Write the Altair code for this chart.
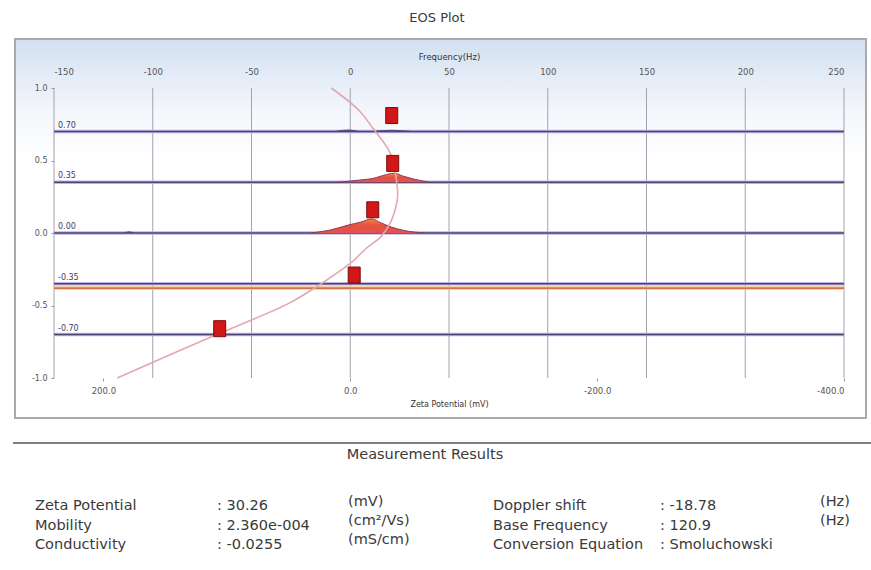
import altair as alt
import pandas as pd

# ---- axis ticks -------------------------------------------------------------
freq_ticks = [-150, -100, -50, 0, 50, 100, 150, 200, 250]      # Hz (top axis)
zeta_ticks = [200, 0, -200, -400]                               # mV (bottom axis)
depth_ticks = [-1.0, -0.5, 0.0, 0.5, 1.0]                       # relative cell depth

# zeta potential per Hz of Doppler shift (30.26 mV <-> -18.78 Hz)
ZETA_PER_HZ = -1.6

# ---- measurement levels -----------------------------------------------------
levels = [0.70, 0.35, 0.00, -0.35, -0.70]
stationary_level = -0.38

# peak markers (frequency, depth)
marker_freq = [21.0, 21.5, 11.4, 2.0, -66.1]
marker_depth = [0.81, 0.48, 0.16, -0.29, -0.66]

# parabolic electro-osmotic profile
profile_depth = [1.0, 0.85, 0.72, 0.55, 0.32, 0.23, 0.07, -0.03, -0.10, -0.21,
                 -0.34, -0.48, -0.69, -0.85, -1.0]
profile_freq = [-9.6, 4.1, 11.6, 20.3, 23.8, 23.8, 20.3, 15.2, 8.6, 0.0,
                -13.7, -30.4, -65.8, -93.0, -118.0]

# frequency spectra drawn on top of each level line
spec_070a_freq = [-9, -5, -1, 3, 6]
spec_070a_amp = [0, 0.010, 0.014, 0.007, 0]
spec_070b_freq = [9, 15, 21, 27, 33]
spec_070b_amp = [0, 0.008, 0.012, 0.008, 0]
spec_035_freq = [-6, 4, 12, 17, 22.3, 27, 32.5, 40]
spec_035_amp = [0, 0.014, 0.028, 0.048, 0.062, 0.041, 0.021, 0]
spec_000_freq = [-20, -10, -1, 5.5, 10.7, 15.7, 20.8, 27.4, 37.5]
spec_000_amp = [0, 0.021, 0.055, 0.076, 0.097, 0.069, 0.041, 0.017, 0]
spec_000b_freq = [-115, -112, -109]
spec_000b_amp = [0, 0.012, 0]

# ---- measurement results table ----------------------------------------------
left_names = ["Zeta Potential", "Mobility", "Conductivity"]
left_values = ["30.26", "2.360e-004", "-0.0255"]
left_units = ["(mV)", "(cm\u00b2/Vs)", "(mS/cm)"]
right_names = ["Doppler shift", "Base Frequency", "Conversion Equation"]
right_values = ["-18.78", "120.9", "Smoluchowski"]
right_units = ["(Hz)", "(Hz)"]

# ---- layout -----------------------------------------------------------------
LEFT, TOP, W, H = 54, 88, 790, 290
FONT = "DejaVu Sans"
TXT = "#3a3a3a"
AX = "#555555"

FREQ = alt.Scale(domain=[freq_ticks[0], freq_ticks[-1]], nice=False, zero=False)
ZETA = alt.Scale(domain=[freq_ticks[0] * ZETA_PER_HZ, freq_ticks[-1] * ZETA_PER_HZ],
                 nice=False, zero=False)
DEPTH = alt.Scale(domain=[depth_ticks[0], depth_ticks[-1]], nice=False, zero=False)

HYPHEN = "replace(format(datum.value, '{f}'), '\u2212', '-')"

Y_AXIS = alt.Axis(values=depth_ticks, labelExpr=HYPHEN.format(f=".1f"), grid=False,
                  domain=False, tickSize=3, tickColor="#999999", labelPadding=4,
                  labelFont=FONT, labelFontSize=8, labelColor=AX, title=None, zindex=2)


def yd(field):
    return alt.Y(field, type="quantitative", scale=DEPTH, axis=Y_AXIS)


def xf(field, axis=None):
    return alt.X(field, type="quantitative", scale=FREQ, axis=axis)


def text_at(s, x, y, size=14.5, align="left", color=TXT):
    return alt.Chart(alt.Data(values=[{"t": s}])).mark_text(
        align=align, baseline="middle", font=FONT, fontSize=size, color=color
    ).encode(x=alt.value(x - LEFT), y=alt.value(y - TOP), text="t:N")


# panel with a pale blue header band
panel = alt.Chart(alt.Data(values=[{}])).mark_rect(
    fill=alt.Gradient(
        gradient="linear", x1=0, x2=0, y1=0, y2=1,
        stops=[alt.GradientStop(color="#d2e0f1", offset=0),
               alt.GradientStop(color="#e4ecf7", offset=0.1),
               alt.GradientStop(color="#f5f7fc", offset=0.2),
               alt.GradientStop(color="#ffffff", offset=0.32)]),
    stroke="#aaaaaa", strokeWidth=2,
).encode(x=alt.value(15 - LEFT), x2=alt.value(866 - LEFT),
         y=alt.value(39 - TOP), y2=alt.value(418 - TOP))

# vertical frequency grid + top axis
grid = alt.Chart(pd.DataFrame({"tick": freq_ticks})).mark_rule(
    color="#a2a2ae", strokeWidth=1
).encode(
    x=xf("tick", alt.Axis(orient="top", values=freq_ticks, labelExpr=HYPHEN.format(f="d"),
                          grid=False, domain=False, ticks=False, labelPadding=12,
                          labelFont=FONT, labelFontSize=8.5, labelColor=AX,
                          title="Frequency(Hz)", titleFont=FONT, titleFontSize=8.5,
                          titleFontWeight="normal", titleColor="#333333", titlePadding=6,
                          zindex=2)),
    y=alt.value(0), y2=alt.value(H),
)

# bottom zeta-potential axis
zeta_axis = alt.Chart(pd.DataFrame({"zeta": zeta_ticks})).mark_rule(strokeOpacity=0).encode(
    x=alt.X("zeta:Q", scale=ZETA,
            axis=alt.Axis(orient="bottom", values=zeta_ticks, labelExpr=HYPHEN.format(f=".1f"),
                          grid=False, domain=False, tickSize=3, tickColor="#999999",
                          labelPadding=5, labelFont=FONT, labelFontSize=8.5, labelColor=AX,
                          title="Zeta Potential (mV)", titleFont=FONT, titleFontSize=8,
                          titleFontWeight="normal", titleColor="#333333", titlePadding=6,
                          zindex=2)),
    y=alt.value(H - 1), y2=alt.value(H),
)

lv = pd.DataFrame({
    "level": levels,
    "label": [f"{v:.2f}" for v in levels],
    "x0": freq_ticks[0],
    "x1": freq_ticks[-1],
})

level_halo = alt.Chart(lv).mark_rule(color="#bdb4e2", strokeWidth=3.5).encode(
    x=xf("x0"), x2="x1", y=yd("level"))
level_line = alt.Chart(lv).mark_rule(color="#4e4473", strokeWidth=1.4).encode(
    x=xf("x0"), x2="x1", y=yd("level"))
level_text = alt.Chart(lv).mark_text(
    align="left", baseline="bottom", dy=-2, font=FONT, fontSize=8, color="#3d3d66"
).encode(x=alt.value(4), y=yd("level"), text="label:N")

st = pd.DataFrame({"level": [stationary_level], "x0": freq_ticks[0], "x1": freq_ticks[-1]})
stat_halo = alt.Chart(st).mark_rule(color="#f6c59a", strokeWidth=3.5).encode(
    x=xf("x0"), x2="x1", y=yd("level"))
stat_line = alt.Chart(st).mark_rule(color="#c25a2c", strokeWidth=1.2).encode(
    x=xf("x0"), x2="x1", y=yd("level"))

prof = pd.DataFrame({"depth": profile_depth, "freq": profile_freq,
                     "i": list(range(len(profile_depth)))})
profile = alt.Chart(prof).mark_line(
    color="#e5a6ad", strokeWidth=1.6, interpolate="catmull-rom"
).encode(x=xf("freq"), y=yd("depth"), order="i:Q")


def spectrum(name, level, freqs, amps):
    return pd.DataFrame({"g": name, "level": level, "freq": freqs,
                         "top": [level + a for a in amps]})


red_spec = pd.concat([
    spectrum("s035", 0.35, spec_035_freq, spec_035_amp),
    spectrum("s000", 0.00, spec_000_freq, spec_000_amp),
])
dark_spec = pd.concat([
    spectrum("s070a", 0.70, spec_070a_freq, spec_070a_amp),
    spectrum("s070b", 0.70, spec_070b_freq, spec_070b_amp),
    spectrum("s000b", 0.00, spec_000b_freq, spec_000b_amp),
])

peaks = alt.Chart(red_spec).mark_area(
    interpolate="monotone", opacity=1, fillOpacity=1,
    fill=alt.Gradient(
        gradient="linear", x1=0, x2=0, y1=0, y2=1,
        stops=[alt.GradientStop(color="#f2873e", offset=0),
               alt.GradientStop(color="#e8503f", offset=0.45),
               alt.GradientStop(color="#e05255", offset=1)]),
    line={"color": "#8a3a62", "strokeWidth": 1},
).encode(x=xf("freq"), y=yd("top"), y2="level", detail="g:N")

bumps = alt.Chart(dark_spec).mark_area(
    interpolate="monotone", color="#4e4473", opacity=0.85
).encode(x=xf("freq"), y=yd("top"), y2="level", detail="g:N")

mk = pd.DataFrame({"freq": marker_freq, "depth": marker_depth})
markers = alt.Chart(mk).mark_point(
    shape="M-0.75,-1H0.75V1H-0.75Z", size=256, filled=True,
    fill="#d01818", stroke="#7d0a0a", strokeWidth=1, opacity=1,
).encode(x=xf("freq"), y=yd("depth"))

# title, separator and measurement results
texts = [
    text_at("EOS Plot", 437, 18, size=13, align="center"),
    text_at("Measurement Results", 425, 455, size=14.5, align="center"),
]
sep = alt.Chart(alt.Data(values=[{}])).mark_rule(color="#555555", strokeWidth=1.5).encode(
    x=alt.value(13 - LEFT), x2=alt.value(871 - LEFT),
    y=alt.value(443 - TOP))

row_y = [506, 525.5, 544.5]
unit_y = [502, 521, 540]
for r in range(3):
    texts.append(text_at(left_names[r], 35, row_y[r]))
    texts.append(text_at(": " + left_values[r], 217, row_y[r]))
    texts.append(text_at(left_units[r], 348, unit_y[r]))
    texts.append(text_at(right_names[r], 493, row_y[r]))
    texts.append(text_at(": " + right_values[r], 660, row_y[r]))
for r, u in enumerate(right_units):
    texts.append(text_at(u, 820, unit_y[r]))

chart = alt.layer(
    panel, grid, zeta_axis, level_halo, stat_halo, level_line, stat_line,
    bumps, peaks, profile, markers, level_text, sep, *texts
).resolve_scale(x="independent").properties(
    width=W, height=H, autosize="none",
    padding={"left": LEFT, "top": TOP, "right": 871 - LEFT - W, "bottom": 570 - TOP - H},
    background="white",
).configure_view(strokeWidth=0)

chart.save("out.html", embed_options={"renderer": "svg", "actions": False})
